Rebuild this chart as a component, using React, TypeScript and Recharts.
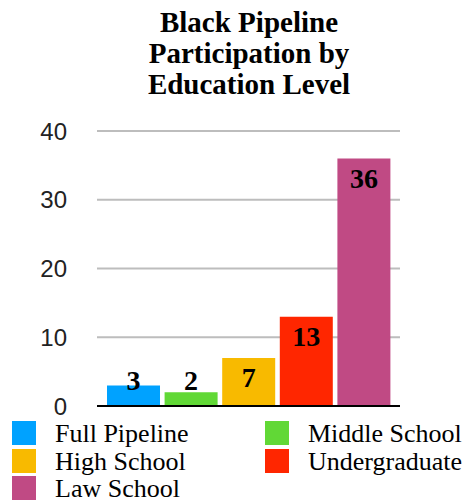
import { BarChart, Bar, XAxis, YAxis, CartesianGrid, Cell, LabelList, ReferenceLine } from "recharts"

const levels = ["Full Pipeline", "Middle School", "High School", "Undergraduate", "Law School"]
const participants = [3, 2, 7, 13, 36]
const barColors = ["#00a2ff", "#61d836", "#f8ba00", "#ff2600", "#c04a84"]
const yTicks = [0, 10, 20, 30, 40]
const titleLines = ["Black Pipeline", "Participation by", "Education Level"]

const chartData = levels.map((name, i) => ({ name, value: participants[i] }))

const serif = "'Liberation Serif', 'Times New Roman', serif"
const sans = "'Liberation Sans', Arial, sans-serif"

const BarValue = (props: any) => {
  const { x, y, width, height, value } = props
  const baseline = Math.min(y + 29, y + height - 16)
  return (
    <text
      x={x + width / 2}
      y={baseline}
      textAnchor="middle"
      fontFamily={serif}
      fontWeight="bold"
      fontSize={28}
      fill="#000"
    >
      {value}
    </text>
  )
}

// legend laid out in two columns, filled row by row
const legendCols = [12, 265]
const legendRows = [421, 449, 476]

export default function App() {
  return (
    <div style={{ position: "absolute", left: 0, top: 0, width: 468, height: 502, background: "#fff" }}>
      <BarChart
        width={468}
        height={502}
        data={chartData}
        margin={{ top: 131, right: 68, bottom: 96, left: 0 }}
      >
        <CartesianGrid vertical={false} stroke="#bdbdbd" strokeWidth={2} />
        <XAxis
          dataKey="name"
          tick={false}
          tickLine={false}
          height={0}
          axisLine={false}
          padding={{ left: 8, right: 7 }}
        />
        <YAxis
          width={97}
          domain={[0, 40]}
          ticks={yTicks}
          axisLine={false}
          tickLine={false}
          tickSize={0}
          tickMargin={30}
          tick={{ fontFamily: sans, fontSize: 24, fill: "#222" }}
        />
        <ReferenceLine y={0} stroke="#000" strokeWidth={2} />
        <Bar dataKey="value" barSize={53} isAnimationActive={false}>
          {chartData.map((entry, index) => (
            <Cell key={`cell-${index}`} fill={barColors[index]} />
          ))}
          <LabelList dataKey="value" content={BarValue} />
        </Bar>
      </BarChart>
      <svg width={468} height={502} style={{ position: "absolute", left: 0, top: 0, pointerEvents: "none" }}>
        {titleLines.map((line, i) => (
          <text
            key={line}
            x={249}
            y={32 + i * 31}
            textAnchor="middle"
            fontFamily={serif}
            fontWeight="bold"
            fontSize={29}
            fill="#000"
          >
            {line}
          </text>
        ))}
        {levels.map((name, i) => {
          const cx = legendCols[i % 2]
          const ry = legendRows[Math.floor(i / 2)]
          return (
            <g key={name}>
              <rect x={cx} y={ry} width={24} height={24} fill={barColors[i]} />
              <text x={cx + 43} y={ry + 21} fontFamily={serif} fontSize={26} fill="#000">
                {name}
              </text>
            </g>
          )
        })}
      </svg>
    </div>
  )
}
